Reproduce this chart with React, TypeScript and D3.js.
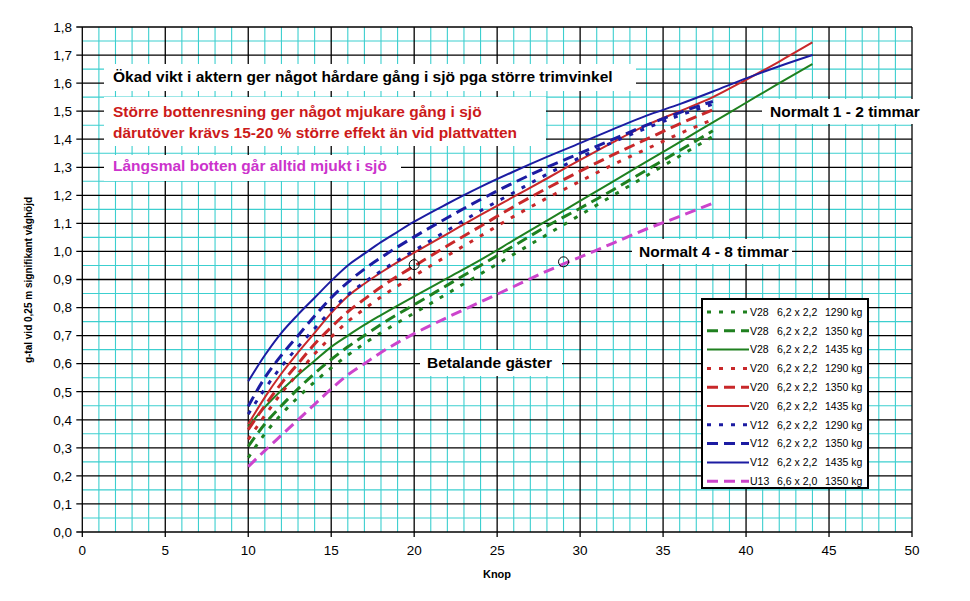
import React from 'react';
import * as d3 from 'd3';

// ---------- DATA ----------
const knots = [10, 11, 12, 13, 14, 15, 16, 17, 18, 19, 20, 22, 24, 26, 28, 30, 32, 34, 36, 38];
const knotsLong = [10, 11, 12, 13, 14, 15, 16, 17, 18, 19, 20, 22, 24, 26, 28, 30, 32, 34, 36, 38, 40, 42, 44];

const v28_1290 = [0.265, 0.35, 0.42, 0.48, 0.535, 0.585, 0.63, 0.672, 0.71, 0.746, 0.78, 0.85, 0.92, 0.99, 1.06, 1.13, 1.2, 1.27, 1.34, 1.41];
const v28_1350 = [0.305, 0.385, 0.45, 0.51, 0.565, 0.615, 0.66, 0.7, 0.74, 0.776, 0.81, 0.88, 0.95, 1.02, 1.09, 1.154, 1.22, 1.29, 1.36, 1.43];
const v28_1435 = [0.376, 0.445, 0.505, 0.56, 0.61, 0.66, 0.7, 0.738, 0.773, 0.807, 0.84, 0.905, 0.97, 1.04, 1.11, 1.18, 1.25, 1.32, 1.39, 1.46, 1.53, 1.6, 1.668];
const v20_1290 = [0.33, 0.415, 0.495, 0.565, 0.635, 0.695, 0.75, 0.795, 0.838, 0.877, 0.913, 0.985, 1.055, 1.125, 1.19, 1.25, 1.31, 1.365, 1.42, 1.47];
const v20_1350 = [0.365, 0.45, 0.53, 0.6, 0.67, 0.73, 0.785, 0.83, 0.873, 0.912, 0.948, 1.02, 1.09, 1.16, 1.225, 1.286, 1.345, 1.4, 1.455, 1.505];
const v20_1435 = [0.385, 0.48, 0.565, 0.64, 0.71, 0.78, 0.84, 0.885, 0.925, 0.962, 0.996, 1.063, 1.13, 1.195, 1.26, 1.326, 1.39, 1.45, 1.5, 1.55, 1.612, 1.677, 1.745];
const v12_1290 = [0.42, 0.51, 0.59, 0.66, 0.725, 0.79, 0.845, 0.89, 0.93, 0.968, 1.003, 1.075, 1.145, 1.21, 1.275, 1.335, 1.39, 1.44, 1.485, 1.525];
const v12_1350 = [0.448, 0.55, 0.63, 0.7, 0.77, 0.835, 0.89, 0.937, 0.978, 1.016, 1.052, 1.12, 1.185, 1.245, 1.3, 1.35, 1.4, 1.45, 1.495, 1.535];
const v12_1435 = [0.537, 0.63, 0.71, 0.775, 0.835, 0.895, 0.95, 0.992, 1.033, 1.07, 1.106, 1.17, 1.23, 1.285, 1.337, 1.386, 1.436, 1.484, 1.525, 1.57, 1.617, 1.66, 1.7];
const u13_1350 = [0.233, 0.29, 0.345, 0.4, 0.455, 0.51, 0.56, 0.6, 0.64, 0.675, 0.707, 0.765, 0.82, 0.875, 0.93, 0.98, 1.03, 1.08, 1.125, 1.172];

const seriesHull = ['V28', 'V28', 'V28', 'V20', 'V20', 'V20', 'V12', 'V12', 'V12', 'U13'];
const seriesDims = ['6,2 x 2,2', '6,2 x 2,2', '6,2 x 2,2', '6,2 x 2,2', '6,2 x 2,2', '6,2 x 2,2', '6,2 x 2,2', '6,2 x 2,2', '6,2 x 2,2', '6,6 x 2,0'];
const seriesWeight = ['1290 kg', '1350 kg', '1435 kg', '1290 kg', '1350 kg', '1435 kg', '1290 kg', '1350 kg', '1435 kg', '1350 kg'];

const markerKnots = [20, 29];
const markerValues = [0.953, 0.963];

const xTicks = [0, 5, 10, 15, 20, 25, 30, 35, 40, 45, 50];
const yTicks = [0, 0.1, 0.2, 0.3, 0.4, 0.5, 0.6, 0.7, 0.8, 0.9, 1.0, 1.1, 1.2, 1.3, 1.4, 1.5, 1.6, 1.7, 1.8];

const note1 = 'Ökad vikt i aktern ger något hårdare gång i sjö pga större trimvinkel';
const note2a = 'Större bottenresning ger något mjukare gång i sjö';
const note2b = 'därutöver krävs 15-20 % större effekt än vid plattvatten';
const note3 = 'Långsmal botten går alltid mjukt i sjö';
const note4 = 'Normalt 1 - 2 timmar';
const note5 = 'Normalt 4 - 8 timmar';
const note6 = 'Betalande gäster';
const yTitle = 'g-tal vid 0,25 m signifikant våghöjd';
const xTitle = 'Knop';

// ---------- STYLE ----------
const GREEN = '#1f801f';
const RED = '#c8282a';
const BLUE = '#1c1ca2';
const MAGENTA = '#cc44cc';
const CYAN = '#3ccfcf';
const FONT = '"Liberation Sans", Arial, sans-serif';

const seriesValues = [v28_1290, v28_1350, v28_1435, v20_1290, v20_1350, v20_1435, v12_1290, v12_1350, v12_1435, u13_1350];
const seriesColor = [GREEN, GREEN, GREEN, RED, RED, RED, BLUE, BLUE, BLUE, MAGENTA];
const seriesStyle = ['dot', 'dash', 'solid', 'dot', 'dash', 'solid', 'dot', 'dash', 'solid', 'dash'];

const dashOf = (s: string) => (s === 'dot' ? '4,8' : s === 'dash' ? '11,6' : undefined);
const widthOf = (s: string) => (s === 'solid' ? 2 : 3);

export default function App() {
  const W = 970, H = 601;
  const x = d3.scaleLinear().domain([0, 50]).range([82.3, 912]);
  const y = d3.scaleLinear().domain([0, 1.8]).range([532, 27]);

  const line = d3
    .line<[number, number]>()
    .x((d) => x(d[0]))
    .y((d) => y(d[1]))
    .curve(d3.curveMonotoneX);

  const minorX = d3.range(0, 51, 1).filter((k) => k % 5 !== 0);
  const minorY = d3.range(0, 36).map((i) => i * 0.05).filter((_, i) => i % 2 === 1);

  const series = seriesValues.map((vals, i) => {
    const xs = vals.length === knotsLong.length ? knotsLong : knots;
    return {
      pts: vals.map((v, j) => [xs[j], v] as [number, number]),
      color: seriesColor[i],
      style: seriesStyle[i],
    };
  });

  const fmt = (v: number) => v.toFixed(1).replace('.', ',');

  const boxText = (
    key: string,
    rx: number,
    ry: number,
    rw: number,
    rh: number,
    lines: { t: string; x: number; y: number; c: string }[]
  ) => (
    <g key={key}>
      <rect x={rx} y={ry} width={rw} height={rh} fill="#fff" />
      {lines.map((l, i) => (
        <text key={i} x={l.x} y={l.y} fill={l.c} fontFamily={FONT} fontWeight="bold" fontSize={15.5}>
          {l.t}
        </text>
      ))}
    </g>
  );

  const legendX = 702, legendY = 299, legendW = 166, legendH = 189;

  return (
    <svg width={W} height={H} style={{ position: 'absolute', left: 0, top: 0, background: '#fff' }}>
      <rect x={0} y={0} width={W} height={H} fill="#fff" />
      {/* minor grid */}
      <g stroke={CYAN} strokeWidth={1.1}>
        {minorX.map((k) => (
          <line key={'mx' + k} x1={x(k)} x2={x(k)} y1={y(0)} y2={y(1.8)} />
        ))}
        {minorY.map((v, i) => (
          <line key={'my' + i} x1={x(0)} x2={x(50)} y1={y(v)} y2={y(v)} />
        ))}
      </g>
      {/* major grid */}
      <g stroke="#000" strokeWidth={1.3}>
        {xTicks.map((k) => (
          <line key={'Mx' + k} x1={x(k)} x2={x(k)} y1={y(0) + 5} y2={y(1.8)} />
        ))}
        {yTicks.map((v, i) => (
          <line key={'My' + i} x1={x(0) - 6} x2={x(50)} y1={y(v)} y2={y(v)} />
        ))}
      </g>
      {/* tick labels */}
      <g fontFamily={FONT} fontSize={13.5} fill="#000">
        {xTicks.map((k) => (
          <text key={'tx' + k} x={x(k)} y={555} textAnchor="middle">
            {k}
          </text>
        ))}
        {yTicks.map((v, i) => (
          <text key={'ty' + i} x={72} y={y(v) + 4.8} textAnchor="end">
            {fmt(v)}
          </text>
        ))}
      </g>
      <text x={497} y={578} textAnchor="middle" fontFamily={FONT} fontWeight="bold" fontSize={11}>
        {xTitle}
      </text>
      <text
        transform="translate(32,280) rotate(-90)"
        textAnchor="middle"
        fontFamily={FONT}
        fontWeight="bold"
        fontSize={10}
      >
        {yTitle}
      </text>

      {/* annotation boxes */}
      {boxText('n1', 104, 64, 532, 27, [{ t: note1, x: 113, y: 82, c: '#000' }])}
      {boxText('n2', 104, 97, 442, 49, [
        { t: note2a, x: 113, y: 117, c: '#cc1a1a' },
        { t: note2b, x: 113, y: 138, c: '#cc1a1a' },
      ])}
      {boxText('n3', 104, 155, 297, 26, [{ t: note3, x: 113, y: 171, c: '#cc33cc' }])}
      {boxText('n4', 762, 99, 164, 25, [{ t: note4, x: 770, y: 117, c: '#000' }])}
      {boxText('n5', 632, 239, 160, 25, [{ t: note5, x: 639, y: 257, c: '#000' }])}
      {boxText('n6', 420, 350, 142, 26, [{ t: note6, x: 427, y: 368, c: '#000' }])}

      {/* series */}
      <g fill="none" strokeLinejoin="round">
        {series.map((s, i) => (
          <path
            key={'s' + i}
            d={line(s.pts) || ''}
            stroke={s.color}
            strokeWidth={widthOf(s.style)}
            strokeDasharray={dashOf(s.style)}
          />
        ))}
      </g>

      {/* circle markers */}
      {markerKnots.map((k, i) => (
        <circle key={'c' + i} cx={x(k)} cy={y(markerValues[i])} r={5} fill="none" stroke="#000" strokeWidth={1} />
      ))}

      {/* legend */}
      <rect x={legendX} y={legendY} width={legendW} height={legendH} fill="#fff" stroke="#000" strokeWidth={2} />
      {series.map((s, i) => {
        const ly = 312 + i * 18.8;
        return (
          <g key={'l' + i}>
            <line
              x1={707}
              x2={749}
              y1={ly}
              y2={ly}
              stroke={s.color}
              strokeWidth={widthOf(s.style)}
              strokeDasharray={dashOf(s.style)}
            />
            <g fontFamily={FONT} fontSize={10.5} fill="#000">
              <text x={750} y={ly + 3.8}>{seriesHull[i]}</text>
              <text x={777} y={ly + 3.8}>{seriesDims[i]}</text>
              <text x={825} y={ly + 3.8}>{seriesWeight[i]}</text>
            </g>
          </g>
        );
      })}
    </svg>
  );
}
